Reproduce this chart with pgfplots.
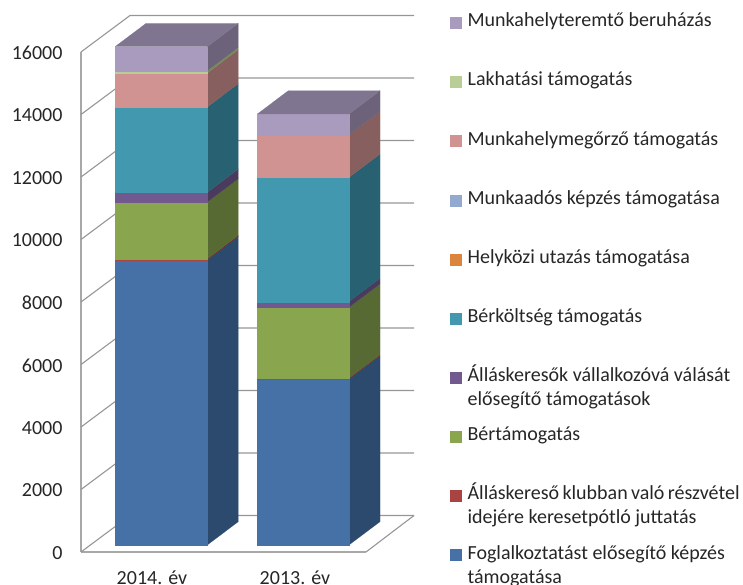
\documentclass[border=0pt]{standalone}
\usepackage{fontspec}
\setmainfont{Carlito}
\usepackage{pgfplots}
\pgfplotsset{compat=1.18}
\definecolor{gridc}{HTML}{969696}
\definecolor{wallc}{HTML}{A8A8A8}
\definecolor{txt}{HTML}{262626}
\definecolor{topc}{HTML}{7F7590}
\definecolor{blue}{HTML}{4571A7}\definecolor{blueS}{HTML}{2C4A6E}
\definecolor{red}{HTML}{A94442}\definecolor{redS}{HTML}{6E2C2A}
\definecolor{green}{HTML}{89A54E}\definecolor{greenS}{HTML}{586A33}
\definecolor{purple}{HTML}{71588F}\definecolor{purpleS}{HTML}{4A3A5D}
\definecolor{teal}{HTML}{4198AF}\definecolor{tealS}{HTML}{286272}
\definecolor{orange}{HTML}{DB843D}
\definecolor{lblue}{HTML}{93A9CF}
\definecolor{pink}{HTML}{D19392}\definecolor{pinkS}{HTML}{875F5E}
\definecolor{lgreen}{HTML}{B9CD96}\definecolor{lgreenS}{HTML}{788A5B}
\definecolor{lilac}{HTML}{A99BBD}\definecolor{lilacS}{HTML}{6C637A}

% one stacked segment: x0, x1, low, high, front colour, side colour
\newcommand{\seg}[6]{%
  \pgfmathsetmacro\xb{#2+31}%
  \edef\lob{\the\numexpr#3+746\relax}%
  \edef\hib{\the\numexpr#4+746\relax}%
  \addplot[forget plot,fill=#6,draw=#6,line width=0.1pt,yshift=7pt]
    coordinates {(#2,#3)(\xb,\lob)(\xb,\hib)(#2,#4)} --cycle;
  \addplot[forget plot,fill=#5,draw=#5,line width=0.1pt,yshift=7pt]
    coordinates {(#1,#3)(#2,#3)(#2,#4)(#1,#4)} --cycle;
}
% top face of a bar: x0, x1, value
\newcommand{\topface}[3]{%
  \pgfmathsetmacro\xa{#1+31}%
  \pgfmathsetmacro\xb{#2+31}%
  \edef\hib{\the\numexpr#3+746\relax}%
  \addplot[forget plot,fill=topc,draw=topc,line width=0.1pt,yshift=7pt]
    coordinates {(#1,#3)(#2,#3)(\xb,\hib)(\xa,\hib)} --cycle;
}
% back wall line plus diagonal for one gridline
\newcommand{\wall}[1]{%
  \edef\hib{\the\numexpr#1+1168\relax}%
  \addplot[forget plot,gridc,line width=1.1pt]
    coordinates {(81,#1)(130,\hib)(414,\hib)};
}
% legend cell: smashed, so two-line entries keep the row pitch
\newcommand{\lgd}[1]{\smash{\parbox[t]{272pt}{\setlength{\baselineskip}{24pt}#1}}}
\newcommand{\key}[1]{\addlegendimage{legend image code/.code={\fill[#1] (0pt,-1.5pt) rectangle (11pt,9.5pt);}}}

\begin{document}
\begin{tikzpicture}[font=\fontsize{20}{24}\selectfont,text=txt]
\clip (0,0) rectangle (743pt,585pt);
\begin{axis}[
  at={(81pt,33pt)},
  anchor=south west,
  scale only axis,
  width=285pt,
  height=500pt,
  clip=false,
  xmin=81,xmax=366,
  ymin=0,ymax=16000,
  axis x line=bottom,
  axis y line=left,
  axis line style={-,wallc,line width=1.3pt},
  xtick={152,295},
  xticklabels={2014. év,2013. év},
  ytick={0,2000,...,16000},
  scaled y ticks=false,
  major tick length=0pt,
  xticklabel style={yshift=-15pt},
  yticklabel style={xshift=-15pt,yshift=-1pt},
  /pgf/number format/.cd,1000 sep={},assume math mode=true,
  /pgfplots/.cd,
  legend style={
    at={(axis cs:450,17124)},
    anchor=north west,
    draw=none,fill=none,
    inner sep=0pt,
    column sep=6pt,
    row sep=46.45pt,
    nodes={inner sep=0pt,text height=9pt,text depth=3pt},
    cells={anchor=base west},
    font=\fontsize{20}{24}\selectfont,
  },
]
  % walls and floor
  \wall{0}\wall{2000}\wall{4000}\wall{6000}\wall{8000}
  \wall{10000}\wall{12000}\wall{14000}\wall{16000}
  \addplot[forget plot,gridc,line width=1.1pt]
    coordinates {(366,0)(414,1168)};

  % 2014. év, cumulative tops
  \seg{115}{207.3}{0}{9120}{blue}{blueS}
  \seg{115}{207.3}{9120}{9160}{red}{redS}
  \seg{115}{207.3}{9160}{10976}{green}{greenS}
  \seg{115}{207.3}{10976}{11286}{purple}{purpleS}
  \seg{115}{207.3}{11286}{14016}{teal}{tealS}
  \seg{115}{207.3}{14016}{15104}{pink}{pinkS}
  \seg{115}{207.3}{15104}{15178}{lgreen}{lgreenS}
  \seg{115}{207.3}{15178}{15946}{lilac}{lilacS}
  \topface{115}{207.3}{15946}

  % 2013. év, cumulative tops
  \seg{257.3}{349}{0}{5312}{blue}{blueS}
  \seg{257.3}{349}{5312}{5344}{red}{redS}
  \seg{257.3}{349}{5344}{7606}{green}{greenS}
  \seg{257.3}{349}{7606}{7786}{purple}{purpleS}
  \seg{257.3}{349}{7786}{11766}{teal}{tealS}
  \seg{257.3}{349}{11766}{13130}{pink}{pinkS}
  \seg{257.3}{349}{13130}{13792}{lilac}{lilacS}
  \topface{257.3}{349}{13792}

  \key{lilac}\addlegendentry{\lgd{Munkahelyteremtő beruházás}}
  \key{lgreen}\addlegendentry{\lgd{Lakhatási támogatás}}
  \key{pink}\addlegendentry{\lgd{Munkahelymegőrző támogatás}}
  \key{lblue}\addlegendentry{\lgd{Munkaadós képzés támogatása}}
  \key{orange}\addlegendentry{\lgd{Helyközi utazás támogatása}}
  \key{teal}\addlegendentry{\lgd{Bérköltség támogatás}}
  \key{purple}\addlegendentry{\lgd{Álláskeresők vállalkozóvá válását\\elősegítő támogatások}}
  \key{green}\addlegendentry{\lgd{Bértámogatás}}
  \key{red}\addlegendentry{\lgd{Álláskereső klubban való részvétel\\idejére keresetpótló juttatás}}
  \key{blue}\addlegendentry{\lgd{Foglalkoztatást elősegítő képzés\\támogatása}}
\end{axis}
\end{tikzpicture}
\end{document}
